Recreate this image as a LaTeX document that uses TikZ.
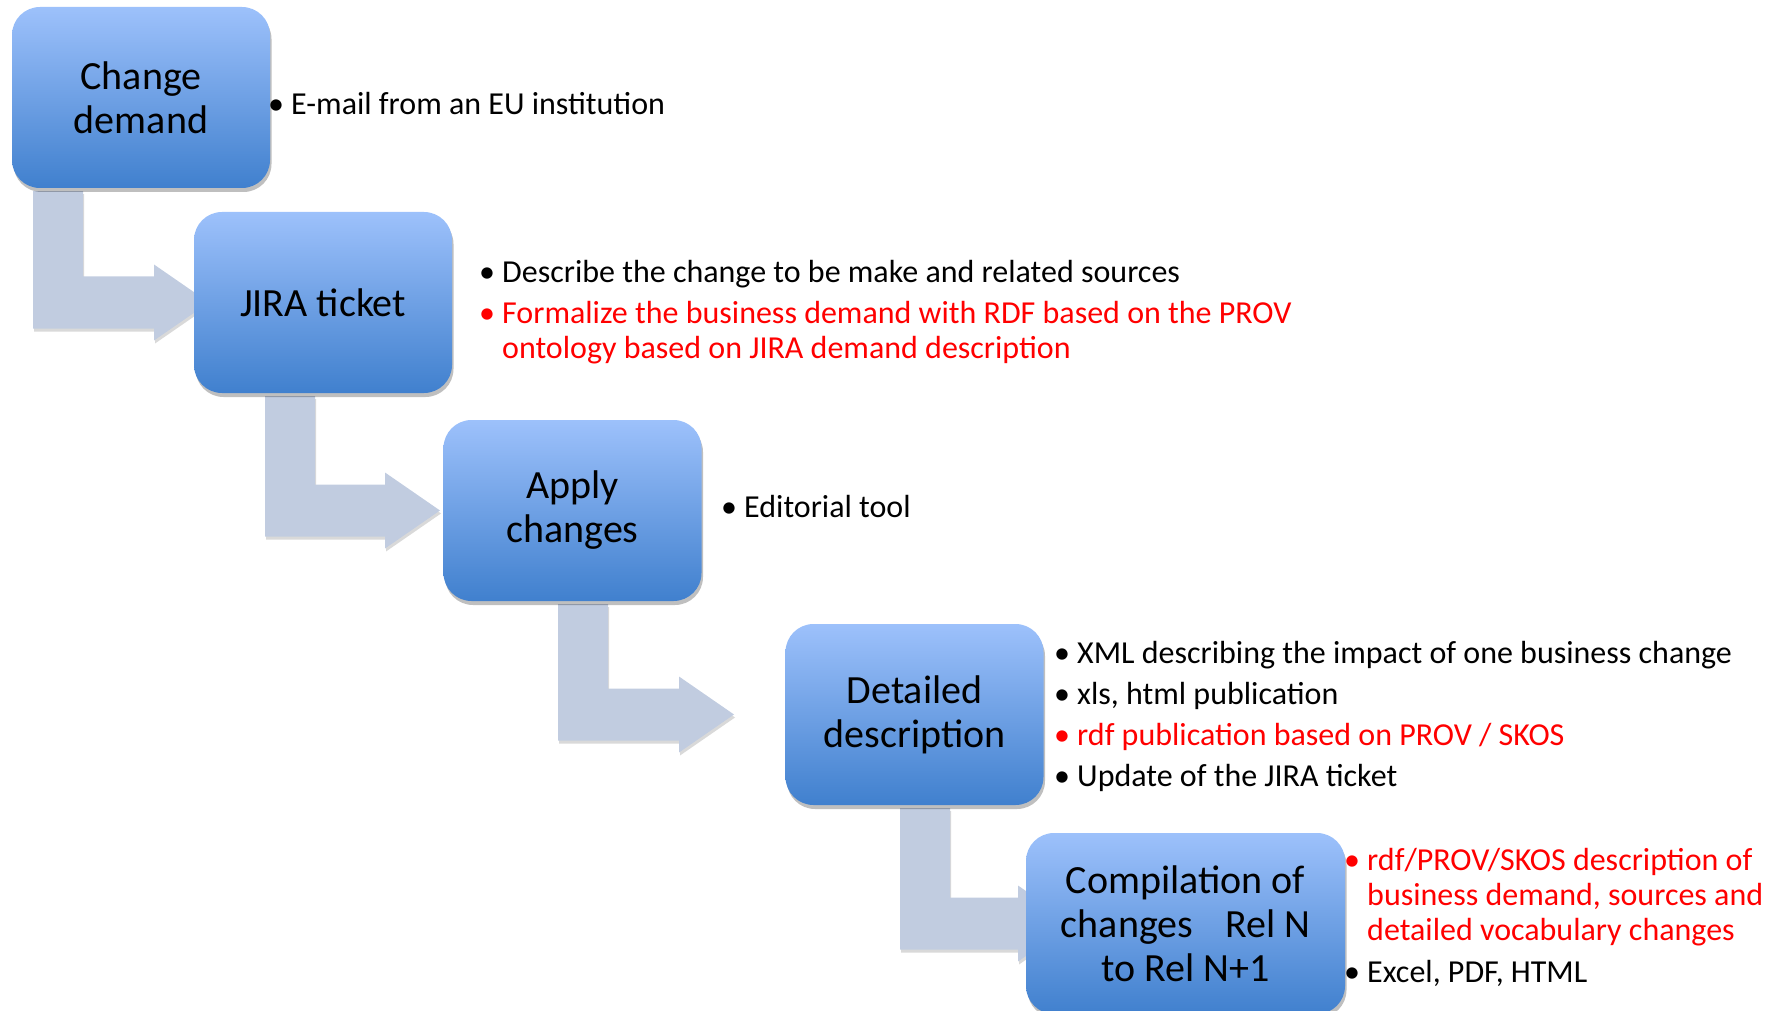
\documentclass[tikz,border=0pt]{standalone}
\usepackage{fontspec}
\setmainfont{Carlito}
\usetikzlibrary{shadows,backgrounds}

\definecolor{stagetop}{RGB}{157,193,251}
\definecolor{stagebottom}{RGB}{64,128,206}
\definecolor{bendfill}{RGB}{193,204,224}

\tikzset{
	stage/.style={rounded corners=28pt,minimum width=258pt,minimum height=181pt,inner sep=0pt,
		top color=stagetop,bottom color=stagebottom,align=center,
		font=\fontsize{40}{44}\selectfont,
		drop shadow={shadow xshift=1.5pt,shadow yshift=-4pt,opacity=.25,fill=black}},
	note/.style={anchor=base west,inner sep=0pt,align=left,font=\fontsize{32}{35}\selectfont},
	bent/.style={fill=bendfill,drop shadow={shadow xshift=1pt,shadow yshift=-3pt,opacity=.15,fill=black}}
}

% bullet hanging left of the text
\newcommand{\bul}{\llap{\textbullet\hspace{0.22em}}}
% bent arrow: source, target, left x of the bar, x where the head starts
\newcommand{\bentarrow}[4]{%
	\path (#3,0 |- #1.south) ++(0,-3) coordinate (t) (#4,0 |- #2.west) coordinate (h);
	\fill[bent] (t) -- ++(50,0) |- ([yshift=26pt]h) -- ++(0,12) -- ++(55,-38) -- ++(-55,-38) -- ++(0,12) -| (t) -- cycle;
}

\begin{document}
\begin{tikzpicture}[x=1pt,y=1pt]
	\useasboundingbox (0,0) rectangle (1781,-1011);

	\node[stage] (demand) at (141,-97.5) {Change\\demand};
	\node[stage] (jira) at (323,-302.5) {JIRA ticket};
	\node[stage] (apply) at (572.5,-510.5) {Apply\\changes};
	\node[stage] (detail) at (914.5,-714.5) {Detailed\\description};
	\node[stage,minimum width=319pt] (compile) at (1185.5,-923.5) {Compilation of\\changes\hspace{0.8em}Rel N\\to Rel N+1};

	\begin{pgfonlayer}{background}
		\bentarrow{demand}{jira}{33}{154}
		\bentarrow{jira}{apply}{265}{385}
		\bentarrow{apply}{detail}{558}{679}
		\bentarrow{detail}{compile}{900}{1018}
	\end{pgfonlayer}

	% multi-line notes sit on the baseline of their last line
	\node[note] (mail) at (291,-115) {\bul E-mail from an EU institution};

	\node[note] (describe) at (502,-283) {\bul Describe the change to be make and related sources};
	\node[note,red] (formalize) at (502,-358) {\bul Formalize the business demand with RDF based on the PROV\\ontology based on JIRA demand description};

	\node[note] (tool) at (744,-517) {\bul Editorial tool};

	\node[note] (xml) at (1077,-663) {\bul XML describing the impact of one business change};
	\node[note] (xls) at (1077,-704) {\bul xls, html publication};
	\node[note,red] (rdf) at (1077,-745) {\bul rdf publication based on PROV / SKOS};
	\node[note] (update) at (1077,-786) {\bul Update of the JIRA ticket};

	\node[note,red] (skos) at (1367,-940) {\bul rdf/PROV/SKOS description of\\business demand, sources and\\detailed vocabulary changes};
	\node[note] (formats) at (1367,-982) {\bul Excel, PDF, HTML};
\end{tikzpicture}
\end{document}
